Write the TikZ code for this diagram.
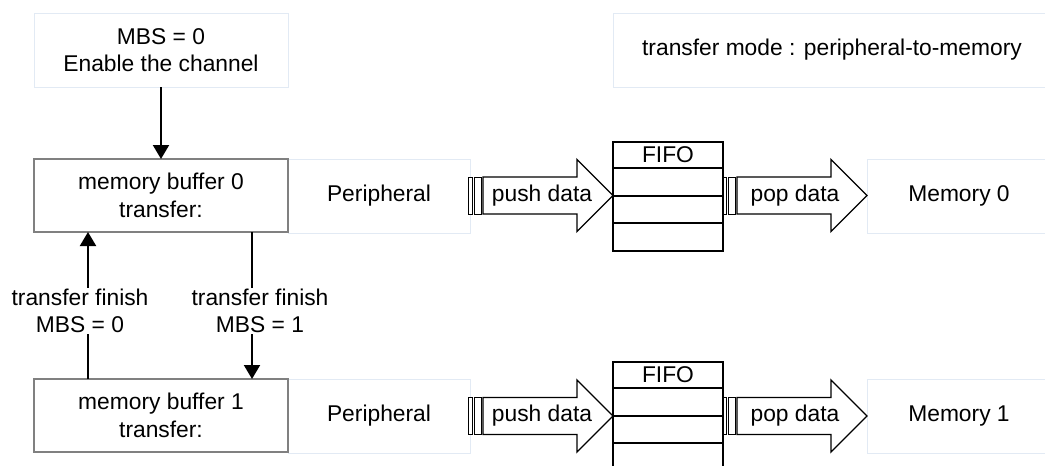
\documentclass[tikz,border=0pt]{standalone}
\usepackage{fontspec}
\setmainfont{Liberation Sans}
\usetikzlibrary{arrows.meta}
\definecolor{faint}{RGB}{226,234,244}
\definecolor{boxgray}{RGB}{128,128,128}
\tikzset{
  faintbox/.style={draw=faint, line width=1, inner sep=0, outer sep=0, align=center},
  bufbox/.style={draw=boxgray, line width=2, fill=white, inner sep=0, outer sep=0, align=center,
                 minimum width=254, minimum height=73},
  conn/.style={line width=2, -{Triangle[length=14,width=16]}},
  lbl/.style={fill=white, inner sep=1, align=center},
  fat/.style={draw=black, line width=1.3, fill=white},
  bar/.style={draw=black, line width=0.9, fill=white},
  fifoline/.style={draw=black, line width=1.5},
}
\newcommand\fatarrow[2]{%
  % #1 = left x, #2 = centre y
  \draw[bar] (#1,#2-18.5) rectangle (#1+4,#2+18.5);
  \draw[bar] (#1+6,#2-18.5) rectangle (#1+13,#2+18.5);
  \draw[fat, line join=miter] (#1+15,#2-18.5) -- (#1+109,#2-18.5) -- (#1+109,#2-36)
     -- (#1+145,#2) -- (#1+109,#2+36) -- (#1+109,#2+18.5) -- (#1+15,#2+18.5) -- cycle;
}
\begin{document}
\begin{tikzpicture}[x=1pt,y=-1pt,font=\fontsize{22.8}{27.5}\selectfont]
\clip (0,0) rectangle (1045,466);
\fill[white] (0,0) rectangle (1045,466);

% top boxes
\node[faintbox, minimum width=254, minimum height=74] (en) at (161,50) {MBS = 0\\Enable the channel};
\node[faintbox, minimum width=438, minimum height=74] (mode) at (832,50) {transfer mode : peripheral-to-memory};

% row 0
\node[faintbox, minimum width=182, minimum height=74] (per0) at (379,196) {Peripheral};
\node[faintbox, minimum width=184, minimum height=74] (mem0) at (959,196) {Memory 0};
\node[bufbox] (buf0) at (161,195.5) {memory buffer 0\\transfer:};

% row 1
\node[faintbox, minimum width=182, minimum height=74] (per1) at (379,416) {Peripheral};
\node[faintbox, minimum width=184, minimum height=74] (mem1) at (959,416) {Memory 1};
\node[bufbox] (buf1) at (161,415.5) {memory buffer 1\\transfer:};

% fat arrows row 0
\fatarrow{468}{195.5}
\fatarrow{722}{195.5}
\node (push0) at (542,195.5) {push data};
\node (pop0) at (795,195.5) {pop data};
% FIFO row 0
\node[inner sep=0, outer sep=0, minimum width=110, minimum height=26] (fifo0) at (668,155) {FIFO};
\draw[fifoline] (613,142) rectangle (723,251);
\draw[fifoline] (613,168) -- (723,168);
\draw[fifoline] (613,196) -- (723,196);
\draw[fifoline] (613,223) -- (723,223);

% fat arrows row 1
\fatarrow{468}{416}
\fatarrow{722}{416}
\node (push1) at (542,416) {push data};
\node (pop1) at (795,416) {pop data};
% FIFO row 1
\node[inner sep=0, outer sep=0, minimum width=110, minimum height=26] (fifo1) at (668,375) {FIFO};
\draw[fifoline] (613,362) rectangle (723,471);
\draw[fifoline] (613,388) -- (723,388);
\draw[fifoline] (613,416) -- (723,416);
\draw[fifoline] (613,443) -- (723,443);

% connectors
\draw[conn] (en.south) -- (buf0.north);
\coordinate (lx) at (88,0);
\coordinate (rx) at (252,0);
\draw[conn] (buf1.north -| lx) -- (buf0.south -| lx);
\draw[conn] (buf0.south -| rx) -- (buf1.north -| rx);
\node[lbl] (lab0) at (80,311) {transfer finish\\MBS = 0};
\node[lbl] (lab1) at (260,311) {transfer finish\\MBS = 1};
\end{tikzpicture}
\end{document}
